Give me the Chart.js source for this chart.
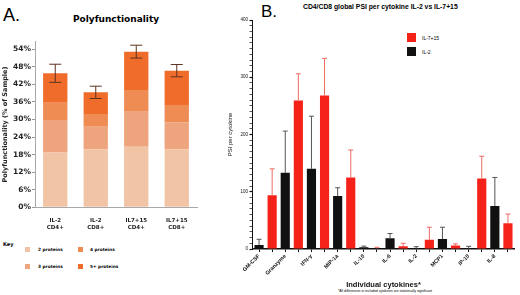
<!DOCTYPE html>
<html>
<head>
<meta charset="utf-8">
<script src="https://cdn.jsdelivr.net/npm/chart.js@4/dist/chart.umd.min.js"></script>
<style>
  html, body { margin: 0; padding: 0; background: #fff; }
  body { width: 520px; height: 295px; position: relative; overflow: hidden; }
  .abs { position: absolute; white-space: nowrap; line-height: 1; }
  #boxA { position: absolute; left: 0; top: 0; width: 232px; height: 232px; }
  #boxB { position: absolute; left: 222px; top: 0; width: 298px; height: 295px; }
  .sw { position: absolute; width: 5px; height: 5px; }
  .lg { position: absolute; width: 9px; height: 9px; }
</style>
</head>
<body>
<div class="abs" style="left:3px;top:5px;font:18px 'Liberation Sans';">A.</div>
<div class="abs" style="left:0;width:232px;top:14px;text-align:center;font:bold 9px 'DejaVu Sans';">Polyfunctionality</div>
<div class="abs" style="left:261px;top:2px;font:17px 'Liberation Sans';">B.</div>
<div class="abs" style="left:303px;top:3px;font:bold 6.8px 'Liberation Sans';">CD4/CD8 global PSI per cytokine IL-2 vs IL-7+15</div>
<div class="abs" style="left:300px;width:170px;top:289px;text-align:center;font:3.4px 'Liberation Sans';">*All differences in included cytokines are statistically significant</div>
<div class="abs" style="left:3px;top:241px;font:bold 5px 'DejaVu Sans';">Key</div>
<div id="keyA"></div>
<div id="legendB"></div>
<div id="boxA"><canvas id="chartA"></canvas></div>
<div id="boxB"><canvas id="chartB"></canvas></div>
<script>
// Panel A: polyfunctionality (% of sample), stacked
const groupsA = [['IL-2', 'CD4+'], ['IL-2', 'CD8+'], ['IL7+15', 'CD4+'], ['IL7+15', 'CD8+']];
const proteinKeys = ['2 proteins', '3 proteins', '4 proteins', '5+ proteins'];
const twoProteins = [18.7, 19.8, 20.7, 19.8];
const threeProteins = [11.1, 7.7, 12.0, 9.2];
const fourProteins = [5.9, 4.4, 7.4, 6.0];
const fivePlusProteins = [10.1, 7.4, 13.1, 11.7];
const totalErr = [3.1, 2.1, 2.2, 2.1];
const yTicksA = [0, 6, 12, 18, 24, 30, 36, 42, 48, 54];

// Panel B: PSI per cytokine
const cytokines = ['GM-CSF', 'Granzyme', 'IFN-γ', 'MIP-1a', 'IL-10', 'IL-6', 'IL-2', 'MCP1', 'IP-10', 'IL-8'];
const il2Psi = [7, 133, 140, 92.5, 3, 18.6, 1, 17.5, 0.5, 75];
const il2Err = [10, 73, 92, 14.5, 2, 8.4, 3, 20.5, 4.2, 50];
const il715Psi = [94, 259.5, 268, 125, 1, 4.7, 16, 6, 123, 45];
const il715Err = [46, 46.5, 65, 48, 2, 5.3, 22, 3, 39, 16];
const seriesB = ['IL-7+15', 'IL-2'];

const orangeShades = ['#f2c4a6', '#eea47c', '#ee8c54', '#ef6c2b'];
const redB = '#f5221a';
const blackB = '#111111';

// key for panel A
const keyA = document.getElementById('keyA');
proteinKeys.forEach((name, i) => {
    const col = Math.floor(i / 2), row = i % 2;
    const sw = document.createElement('div');
    sw.className = 'sw';
    sw.style.left = (25 + col * 53) + 'px';
    sw.style.top = (247 + row * 17) + 'px';
    sw.style.background = orangeShades[i];
    keyA.appendChild(sw);
    const t = document.createElement('div');
    t.className = 'abs';
    t.style.left = (38 + col * 52) + 'px';
    t.style.top = (247 + row * 17) + 'px';
    t.style.font = 'bold 4.3px "DejaVu Sans"';
    t.textContent = name;
    keyA.appendChild(t);
});

// legend for panel B
const legendB = document.getElementById('legendB');
[redB, blackB].forEach((c, i) => {
    const sw = document.createElement('div');
    sw.className = 'lg';
    sw.style.left = '407px';
    sw.style.top = (33 + i * 14) + 'px';
    sw.style.background = c;
    legendB.appendChild(sw);
    const t = document.createElement('div');
    t.className = 'abs';
    t.style.left = '422px';
    t.style.top = (35 + i * 14) + 'px';
    t.style.font = '5px "Liberation Sans"';
    t.textContent = seriesB[i];
    legendB.appendChild(t);
});

const errorBars = {
    id: 'errorBars',
    afterDatasetsDraw(chart) {
        const ctx = chart.ctx;
        const y = chart.scales.y;
        chart.data.datasets.forEach((ds, di) => {
            if (!ds.errors) return;
            const meta = chart.getDatasetMeta(di);
            ctx.save();
            ctx.strokeStyle = ds.errorColor;
            ctx.lineWidth = 1;
            meta.data.forEach((bar, i) => {
                const e = ds.errors[i];
                if (e == null || ds.data[i] == null) return;
                const len = y.getPixelForValue(0) - y.getPixelForValue(e);
                const top = bar.y - len;
                const bottom = ds.bothSides ? bar.y + len : bar.y;
                const cap = ds.capHalf;
                ctx.beginPath();
                ctx.moveTo(bar.x, top);
                ctx.lineTo(bar.x, bottom);
                ctx.moveTo(bar.x - cap, top);
                ctx.lineTo(bar.x + cap, top);
                if (ds.bothSides) {
                    ctx.moveTo(bar.x - cap, bottom);
                    ctx.lineTo(bar.x + cap, bottom);
                }
                ctx.stroke();
            });
            ctx.restore();
        });
    }
};

function fixWidth(w) {
    return scale => {
        scale.width = w;
        scale.paddingTop = scale.paddingBottom = scale.paddingLeft = scale.paddingRight = 0;
    };
}
function fixHeight(h) {
    return scale => {
        scale.height = h;
        scale.paddingTop = scale.paddingBottom = scale.paddingLeft = scale.paddingRight = 0;
    };
}

const chartA = new Chart(document.getElementById('chartA').getContext('2d'), {
    type: 'bar',
    data: {
        labels: groupsA,
        datasets: [twoProteins, threeProteins, fourProteins, fivePlusProteins].map((d, i) => ({
            label: proteinKeys[i],
            data: d,
            backgroundColor: orangeShades[i],
            borderWidth: 0,
            barPercentage: 0.6,
            categoryPercentage: 1,
            errors: i === 3 ? totalErr : null,
            errorColor: '#5e3321',
            capHalf: 6,
            bothSides: true
        }))
    },
    options: {
        responsive: true,
        maintainAspectRatio: false,
        animation: false,
        layout: { padding: { top: 41.7, right: 35, left: 0, bottom: 0 } },
        plugins: { legend: { display: false }, tooltip: { enabled: false } },
        scales: {
            x: {
                stacked: true,
                afterFit: fixHeight(24.7),
                grid: { display: false },
                border: { color: '#a8a8a8', width: 1 },
                ticks: { color: '#222', font: { family: 'DejaVu Sans', size: 5.5, weight: 'bold' }, padding: 2, maxRotation: 0 }
            },
            y: {
                stacked: true,
                min: 0,
                max: 56.6,
                afterFit: fixWidth(35),
                afterBuildTicks: scale => { scale.ticks = yTicksA.map(v => ({ value: v })); },
                grid: { drawOnChartArea: false, tickLength: 3, color: '#999' },
                border: { color: '#a8a8a8', width: 1 },
                title: {
                    display: true,
                    text: 'Polyfunctionality (% of Sample)',
                    color: '#222',
                    font: { family: 'DejaVu Sans', size: 6.5, weight: 'bold' },
                    padding: { top: 1.5, bottom: 0 }
                },
                ticks: {
                    color: '#222',
                    padding: 1,
                    font: { family: 'DejaVu Sans', size: 7.5, weight: 'bold' },
                    callback: v => v + '%'
                }
            }
        }
    },
    plugins: [errorBars]
});

const labelsB = cytokines.flatMap(c => [c, '']);
const chartB = new Chart(document.getElementById('chartB').getContext('2d'), {
    type: 'bar',
    data: {
        labels: labelsB,
        datasets: [
            {
                label: seriesB[1],
                data: il2Psi.flatMap(v => [v, null]),
                errors: il2Err.flatMap(v => [v, null]),
                backgroundColor: blackB,
                errorColor: '#555',
                capHalf: 2.5,
                bothSides: false
            },
            {
                label: seriesB[0],
                data: il715Psi.flatMap(v => [null, v]),
                errors: il715Err.flatMap(v => [null, v]),
                backgroundColor: redB,
                errorColor: '#ee6a62',
                capHalf: 2.5,
                bothSides: false
            }
        ]
    },
    options: {
        responsive: true,
        maintainAspectRatio: false,
        animation: false,
        datasets: { bar: { grouped: false, barPercentage: 0.7, categoryPercentage: 1, borderWidth: 0 } },
        layout: { padding: { top: 20, right: 5.5, left: 0, bottom: 0 } },
        plugins: { legend: { display: false }, tooltip: { enabled: false } },
        scales: {
            x: {
                afterFit: fixHeight(46),
                grid: { drawOnChartArea: false, offset: false, tickLength: 3, color: '#111' },
                border: { color: '#111', width: 1.5 },
                title: {
                    display: true,
                    text: 'Individual cytokines*',
                    color: '#111',
                    font: { family: 'Liberation Sans', size: 7.5, weight: 'bold' },
                    padding: { top: 0, bottom: 5.5 }
                },
                ticks: {
                    color: '#111',
                    autoSkip: false,
                    maxRotation: 45,
                    minRotation: 45,
                    padding: 1,
                    font: { family: 'Liberation Sans', size: 5.5, weight: 'bold' }
                }
            },
            y: {
                min: 0,
                max: 400,
                afterFit: fixWidth(30.5),
                grid: {
                    drawOnChartArea: false,
                    tickLength: 3,
                    color: '#111',
                    tickWidth: c => (c.tick && c.tick.value % 100 === 0 ? 1.2 : 0.7)
                },
                border: { color: '#111', width: 1 },
                title: {
                    display: true,
                    text: 'PSI per cytokine',
                    color: '#111',
                    font: { family: 'Liberation Sans', size: 6 },
                    padding: { top: 4.4, bottom: 0 }
                },
                ticks: {
                    color: '#111',
                    stepSize: 10,
                    autoSkip: false,
                    padding: 1.5,
                    font: { family: 'Liberation Sans', size: 4.5 },
                    callback: v => (v % 100 === 0 ? v : '')
                }
            }
        }
    },
    plugins: [errorBars]
});
</script>
</body>
</html>
